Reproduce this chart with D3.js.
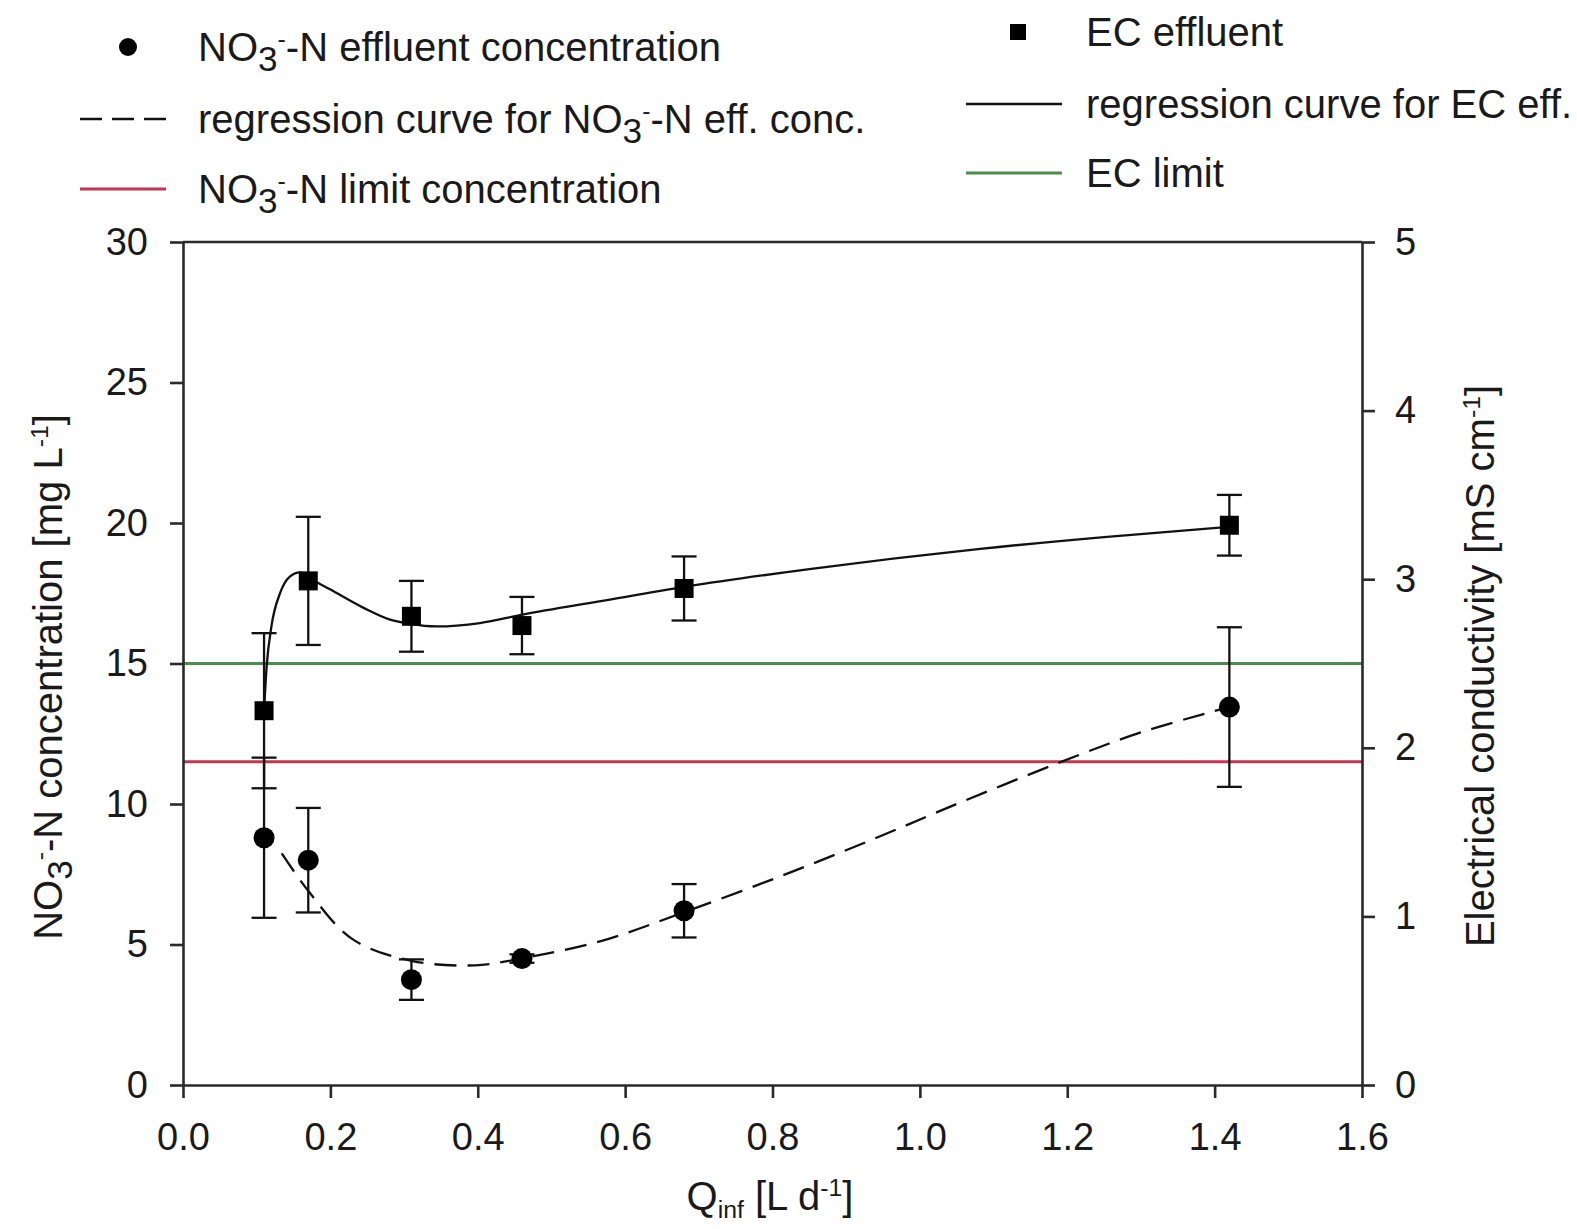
<!DOCTYPE html>
<html>
<head>
<meta charset="utf-8">
<script src="https://cdn.jsdelivr.net/npm/d3@7"></script>
<style>
  body { margin: 0; background: #fff; }
  svg { font-family: "Liberation Sans", Arial, sans-serif; }
</style>
</head>
<body>
<svg id="chart" width="1577" height="1229"></svg>
<script>
// measured points, Q_inf [L/d]
const qPoints = [0.11, 0.17, 0.31, 0.46, 0.68, 1.42];
const no3Values = [8.8, 8.0, 3.75, 4.5, 6.2, 13.45];
const no3Errors = [2.85, 1.86, 0.72, 0.15, 0.95, 2.84];
const ecValues = [2.22, 2.99, 2.78, 2.725, 2.945, 3.32];
const ecErrors = [0.46, 0.38, 0.21, 0.17, 0.19, 0.18];

// regression curves
const no3CurveQ = [0.134, 0.172, 0.23, 0.31, 0.396, 0.461, 0.567, 0.681, 0.81, 0.934, 1.05, 1.189, 1.30, 1.42];
const no3CurveV = [8.24, 6.84, 5.19, 4.42, 4.26, 4.51, 5.12, 6.16, 7.42, 8.72, 10.0, 11.47, 12.55, 13.45];
const ecCurveQ = [0.11, 0.1135, 0.12, 0.132, 0.145, 0.159, 0.172, 0.1995, 0.245, 0.281, 0.308, 0.344, 0.403, 0.461, 0.567, 0.681, 0.85, 1.082, 1.25, 1.42];
const ecCurveV = [2.22, 2.48, 2.72, 2.92, 3.015, 3.04, 3.005, 2.94, 2.83, 2.76, 2.735, 2.72, 2.74, 2.79, 2.87, 2.955, 3.06, 3.18, 3.25, 3.31];

const no3Limit = 11.5;
const ecLimit = 2.5;

const xTicks = [0, 0.2, 0.4, 0.6, 0.8, 1.0, 1.2, 1.4, 1.6];
const leftTicks = [0, 5, 10, 15, 20, 25, 30];
const rightTicks = [0, 1, 2, 3, 4, 5];

const svg = d3.select("#chart");
const x0 = 183, x1 = 1362, yTop = 242, yBot = 1085;

const x = d3.scaleLinear().domain([0, 1.6]).range([x0, x1]);
const yL = d3.scaleLinear().domain([0, 30]).range([yBot, yTop]);
const yR = d3.scaleLinear().domain([0, 5]).range([yBot, yTop]);

const axisColor = "#2a2a2a";

// limit lines
svg.append("line")
    .attr("x1", x0).attr("x2", x1)
    .attr("y1", yR(ecLimit)).attr("y2", yR(ecLimit))
    .attr("stroke", "#4b8d4b").attr("stroke-width", 3);
svg.append("line")
    .attr("x1", x0).attr("x2", x1)
    .attr("y1", yL(no3Limit)).attr("y2", yL(no3Limit))
    .attr("stroke", "#c43550").attr("stroke-width", 3);

// regression curves
const no3Line = d3.line()
    .x((d, i) => x(no3CurveQ[i]))
    .y(d => yL(d))
    .curve(d3.curveCatmullRom);
svg.append("path")
    .attr("d", no3Line(no3CurveV))
    .attr("fill", "none")
    .attr("stroke", "#111")
    .attr("stroke-width", 2.3)
    .attr("stroke-dasharray", "22,11");

const ecLine = d3.line()
    .x((d, i) => x(ecCurveQ[i]))
    .y(d => yR(d))
    .curve(d3.curveMonotoneX);
svg.append("path")
    .attr("d", ecLine(ecCurveV))
    .attr("fill", "none")
    .attr("stroke", "#111")
    .attr("stroke-width", 2.3);

// error bars
const drawErrors = (vals, errs, scale) => {
    const g = svg.append("g").attr("stroke", "#111").attr("stroke-width", 2.3);
    vals.forEach((v, i) => {
        const cx = x(qPoints[i]);
        const top = scale(v + errs[i]), bot = scale(v - errs[i]);
        g.append("line").attr("x1", cx).attr("x2", cx).attr("y1", top).attr("y2", bot);
        g.append("line").attr("x1", cx - 12.5).attr("x2", cx + 12.5).attr("y1", top).attr("y2", top);
        g.append("line").attr("x1", cx - 12.5).attr("x2", cx + 12.5).attr("y1", bot).attr("y2", bot);
    });
};
drawErrors(ecValues, ecErrors, yR);
drawErrors(no3Values, no3Errors, yL);

// markers
svg.selectAll("rect.ec")
    .data(ecValues)
    .join("rect")
    .attr("class", "ec")
    .attr("x", (d, i) => x(qPoints[i]) - 9.5)
    .attr("y", d => yR(d) - 9.5)
    .attr("width", 19).attr("height", 19)
    .attr("fill", "#000");

svg.selectAll("circle.no3")
    .data(no3Values)
    .join("circle")
    .attr("class", "no3")
    .attr("cx", (d, i) => x(qPoints[i]))
    .attr("cy", d => yL(d))
    .attr("r", 10.5)
    .attr("fill", "#000");

// axes
const styleAxis = (g, size) => {
    g.selectAll("path").attr("stroke", axisColor).attr("stroke-width", 2.6);
    g.selectAll("line").attr("stroke", axisColor).attr("stroke-width", 2.6);
    g.selectAll("text").attr("font-size", size).attr("fill", "#1a1a1a")
        .attr("font-family", "'Liberation Sans', Arial, sans-serif");
};

svg.append("g")
    .attr("transform", `translate(0,${yBot})`)
    .call(d3.axisBottom(x).tickValues(xTicks).tickFormat(d3.format(".1f"))
        .tickSize(13).tickSizeOuter(0).tickPadding(25))
    .call(g => styleAxis(g, 38));

svg.append("g")
    .attr("transform", `translate(${x0},0)`)
    .call(d3.axisLeft(yL).tickValues(leftTicks).tickFormat(d3.format("d"))
        .tickSize(13).tickSizeOuter(0).tickPadding(22))
    .call(g => styleAxis(g, 38));

svg.append("g")
    .attr("transform", `translate(${x1},0)`)
    .call(d3.axisRight(yR).tickValues(rightTicks).tickFormat(d3.format("d"))
        .tickSize(13).tickSizeOuter(0).tickPadding(20))
    .call(g => styleAxis(g, 38));

// top frame line
svg.append("line")
    .attr("x1", x0).attr("x2", x1).attr("y1", yTop).attr("y2", yTop)
    .attr("stroke", axisColor).attr("stroke-width", 2.6);

// text helper: parts = [[text, "sub"|"sup"|null], ...]
const richText = (sel, parts) => {
    parts.forEach(([t, kind]) => {
        const ts = sel.append("tspan").text(t);
        if (kind === "sub") ts.attr("baseline-shift", "-28%").attr("font-size", "88%");
        if (kind === "sup") ts.attr("baseline-shift", "55%").attr("font-size", "62%");
        if (kind === "subs") ts.attr("baseline-shift", "-30%").attr("font-size", "62%");
    });
};

// axis titles
const xTitle = svg.append("text")
    .attr("x", 770).attr("y", 1210)
    .attr("text-anchor", "middle").attr("font-size", 40).attr("fill", "#1a1a1a");
richText(xTitle, [["Q", null], ["inf", "subs"], [" [L d", null], ["-1", "sup"], ["]", null]]);

const lTitle = svg.append("text")
    .attr("transform", "translate(62,677) rotate(-90)")
    .attr("text-anchor", "middle").attr("font-size", 40).attr("fill", "#1a1a1a");
richText(lTitle, [["NO", null], ["3", "sub"], ["-", "sup"], ["-N concentration [mg L", null], ["-1", "sup"], ["]", null]]);

const rTitle = svg.append("text")
    .attr("transform", "translate(1494,666) rotate(-90)")
    .attr("text-anchor", "middle").attr("font-size", 40).attr("fill", "#1a1a1a");
richText(rTitle, [["Electrical conductivity [mS cm", null], ["-1", "sup"], ["]", null]]);

// legend
const legend = svg.append("g").attr("font-size", 40).attr("fill", "#1a1a1a");
const legendText = (lx, ly, parts) => {
    const t = legend.append("text").attr("x", lx).attr("y", ly).attr("dy", "0.36em");
    richText(t, parts);
};

legend.append("circle").attr("cx", 128).attr("cy", 47).attr("r", 9).attr("fill", "#000");
legendText(198, 47, [["NO", null], ["3", "sub"], ["-", "sup"], ["-N effluent concentration", null]]);

legend.append("line").attr("x1", 80).attr("x2", 166).attr("y1", 119).attr("y2", 119)
    .attr("stroke", "#111").attr("stroke-width", 2.3).attr("stroke-dasharray", "22,10");
legendText(198, 119, [["regression curve for NO", null], ["3", "sub"], ["-", "sup"], ["-N eff. conc.", null]]);

legend.append("line").attr("x1", 80).attr("x2", 166).attr("y1", 189).attr("y2", 189)
    .attr("stroke", "#c43550").attr("stroke-width", 3);
legendText(198, 189, [["NO", null], ["3", "sub"], ["-", "sup"], ["-N limit concentration", null]]);

legend.append("rect").attr("x", 1010).attr("y", 24).attr("width", 16).attr("height", 16).attr("fill", "#000");
legendText(1086, 32, [["EC effluent", null]]);

legend.append("line").attr("x1", 966).attr("x2", 1062).attr("y1", 104).attr("y2", 104)
    .attr("stroke", "#111").attr("stroke-width", 2.3);
legendText(1086, 104, [["regression curve for EC eff.", null]]);

legend.append("line").attr("x1", 966).attr("x2", 1062).attr("y1", 173).attr("y2", 173)
    .attr("stroke", "#4b8d4b").attr("stroke-width", 3);
legendText(1086, 173, [["EC limit", null]]);
</script>
</body>
</html>
